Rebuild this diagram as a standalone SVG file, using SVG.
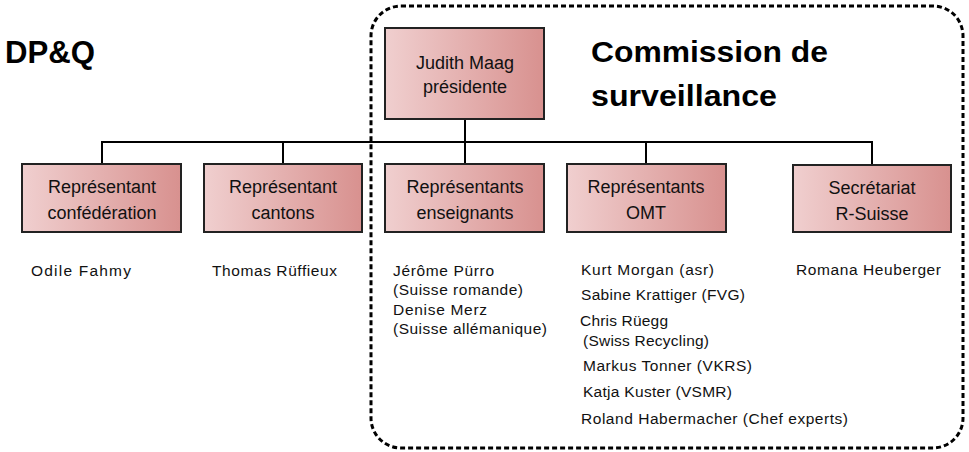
<svg xmlns="http://www.w3.org/2000/svg" width="969" height="452" viewBox="0 0 969 452">
  <defs>
    <linearGradient id="boxFill" x1="0" y1="0" x2="1" y2="0">
      <stop offset="0" stop-color="#F0CFCF"/>
      <stop offset="1" stop-color="#D8918F"/>
    </linearGradient>
  </defs>
  <style>
    .box { fill: url(#boxFill); stroke: #222; stroke-width: 2; }
    .lbl { font-family: "Liberation Sans", Arial, sans-serif; font-size: 18px; fill: #111; text-anchor: middle; }
    .name { font-family: "Liberation Sans", Arial, sans-serif; font-size: 15.5px; fill: #111; }
    .title { font-family: "Liberation Sans", Arial, sans-serif; font-size: 29px; font-weight: bold; fill: #000; }
    .conn { stroke: #000; stroke-width: 2; fill: none; }
    .frame { stroke: #000; stroke-width: 3; fill: none; stroke-dasharray: 5 3; }
  </style>
  <rect width="969" height="452" fill="#fff"/>

  <rect id="commission-frame" class="frame" x="371" y="6" width="592" height="442" rx="30" ry="30"/>

  <text class="title" x="5" y="63" style="font-size:31px" textLength="90" lengthAdjust="spacingAndGlyphs">DP&amp;Q</text>
  <text class="title" x="591" y="62" textLength="237" lengthAdjust="spacingAndGlyphs">Commission de</text>
  <text class="title" x="591" y="106" textLength="186" lengthAdjust="spacingAndGlyphs">surveillance</text>

  <g id="connectors">
    <line class="conn" x1="465" y1="119" x2="465" y2="142"/>
    <line class="conn" x1="101" y1="142" x2="873" y2="142"/>
    <line class="conn" x1="102" y1="142" x2="102" y2="164"/>
    <line class="conn" x1="283" y1="142" x2="283" y2="164"/>
    <line class="conn" x1="465" y1="142" x2="465" y2="164"/>
    <line class="conn" x1="646" y1="142" x2="646" y2="164"/>
    <line class="conn" x1="872" y1="142" x2="872" y2="165"/>
  </g>

  <g id="judith">
    <rect class="box" x="385" y="28" width="159" height="91"/>
    <text class="lbl" x="465" y="69">Judith Maag</text>
    <text class="lbl" x="465" y="93">présidente</text>
  </g>

  <g id="confederation">
    <rect class="box" x="22" y="164" width="159" height="68"/>
    <text class="lbl" x="102" y="193">Représentant</text>
    <text class="lbl" x="102" y="219">confédération</text>
    <text class="name" x="31" y="276" textLength="100" lengthAdjust="spacing">Odile Fahmy</text>
  </g>

  <g id="cantons">
    <rect class="box" x="204" y="164" width="158" height="68"/>
    <text class="lbl" x="283" y="193">Représentant</text>
    <text class="lbl" x="283" y="219">cantons</text>
    <text class="name" x="212" y="276" textLength="125" lengthAdjust="spacing">Thomas Rüffieux</text>
  </g>

  <g id="enseignants">
    <rect class="box" x="385" y="164" width="159" height="68"/>
    <text class="lbl" x="465" y="193">Représentants</text>
    <text class="lbl" x="465" y="219">enseignants</text>
    <text class="name" x="393" y="276" textLength="101" lengthAdjust="spacing">Jérôme Pürro</text>
    <text class="name" x="393" y="295" textLength="130" lengthAdjust="spacing">(Suisse romande)</text>
    <text class="name" x="393" y="315" textLength="94" lengthAdjust="spacing">Denise Merz</text>
    <text class="name" x="393" y="334" textLength="154" lengthAdjust="spacing">(Suisse allémanique)</text>
  </g>

  <g id="omt">
    <rect class="box" x="567" y="164" width="159" height="68"/>
    <text class="lbl" x="646" y="193">Représentants</text>
    <text class="lbl" x="646" y="219">OMT</text>
    <text class="name" x="581" y="275" textLength="133" lengthAdjust="spacing">Kurt Morgan (asr)</text>
    <text class="name" x="581" y="300" textLength="164" lengthAdjust="spacing">Sabine Krattiger (FVG)</text>
    <text class="name" x="580" y="326" textLength="88" lengthAdjust="spacing">Chris Rüegg</text>
    <text class="name" x="583" y="346" textLength="126" lengthAdjust="spacing">(Swiss Recycling)</text>
    <text class="name" x="583" y="371" textLength="169" lengthAdjust="spacing">Markus Tonner (VKRS)</text>
    <text class="name" x="583" y="397" textLength="149" lengthAdjust="spacing">Katja Kuster (VSMR)</text>
    <text class="name" x="581" y="424" textLength="267" lengthAdjust="spacing">Roland Habermacher (Chef experts)</text>
  </g>

  <g id="secretariat">
    <rect class="box" x="793" y="165" width="158" height="67"/>
    <text class="lbl" x="872" y="194">Secrétariat</text>
    <text class="lbl" x="872" y="220">R-Suisse</text>
    <text class="name" x="796" y="275" textLength="145" lengthAdjust="spacing">Romana Heuberger</text>
  </g>
</svg>
